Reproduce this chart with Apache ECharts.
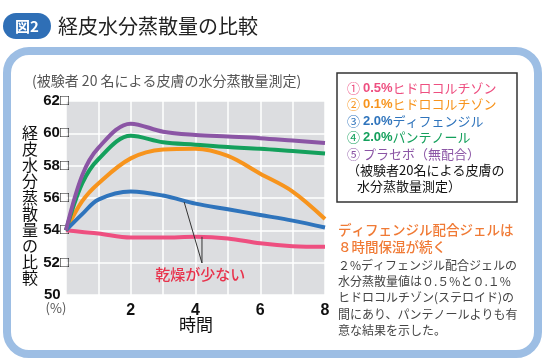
<!DOCTYPE html>
<html><head><meta charset="utf-8">
<script src="https://cdn.jsdelivr.net/npm/echarts@6/dist/echarts.min.js"></script>
<style>html,body{margin:0;padding:0;background:#fff}#c{width:547px;height:364px}</style>
</head><body><div id="c"></div>
<script>
// Data (hours, value %)
var hours = [0, 0.5, 1, 2, 3, 4, 5, 6, 7, 8];
var purple = [54, 57.4, 59.1, 60.6, 60.1, 59.9, 59.8, 59.7, 59.55, 59.4];
var green  = [54, 56.9, 58.4, 59.85, 59.45, 59.3, 59.15, 59.05, 58.9, 58.75];
var orange = [54, 55.8, 56.9, 58.45, 59.0, 59.05, 58.6, 57.5, 56.4, 54.7];
var blue   = [54, 55.0, 55.9, 56.4, 56.15, 55.65, 55.3, 54.95, 54.6, 54.18];
var pink   = [54, 53.9, 53.8, 53.55, 53.55, 53.6, 53.5, 53.2, 53.02, 52.98];
var xTicks = [2, 4, 6, 8];
var yTicks = [50, 52, 54, 56, 58, 60, 62];
var legendNames = ['0.5%ヒドロコルチゾン', '0.1%ヒドロコルチゾン', '2.0%ディフェンジル', '2.0%パンテノール', 'プラセボ（無配合）'];

function pts(arr){ return hours.map(function(h,i){ return [h, arr[i]]; }); }
var JP = '"Noto Sans CJK JP", sans-serif';
var NUM = '"Liberation Sans", Arial, sans-serif';

var chart = echarts.init(document.getElementById('c'));
function ser(name, arr, color){
  return {type:'line', name:name, data:pts(arr), smooth:0.35, showSymbol:false, clip:false,
    lineStyle:{width:4, color:color}, itemStyle:{color:color}, z:3};
}
var colors = ['#ee4f80', '#f7941d', '#2f74bc', '#14a05c', '#8b55a5'];
var option = {
  animation:false,
  grid:{left:66, right:222, top:101, bottom:69, show:true, backgroundColor:'#dcdde0', borderWidth:0},
  xAxis:{type:'value', min:0, max:8, interval:1,
    axisLine:{show:false}, axisTick:{show:false},
    splitLine:{lineStyle:{color:'#ffffff', width:1.5}},
    axisLabel:{margin:8, fontFamily:NUM, fontWeight:'bold', fontSize:16, color:'#111',
      formatter:function(v){ return xTicks.indexOf(v) >= 0 ? String(v) : ''; }}},
  yAxis:{type:'value', min:50, max:62, interval:2,
    axisLine:{show:false}, axisTick:{show:false},
    splitLine:{lineStyle:{color:'#ffffff', width:1.5}},
    axisLabel:{margin:-3, fontFamily:NUM, fontWeight:'bold', fontSize:15, color:'#111',
      formatter:function(v){ return yTicks.indexOf(v) < 0 ? '' : (v === 50 ? '50  ' : v + '□'); }}},
  series:[ser(legendNames[0], pink, colors[0]), ser(legendNames[1], orange, colors[1]),
          ser(legendNames[2], blue, colors[2]), ser(legendNames[3], green, colors[3]),
          ser(legendNames[4], purple, colors[4])]
};
chart.setOption(option);

var circ = ['①','②','③','④','⑤'];
var g = [
  {type:'rect', shape:{x:7, y:51, width:531, height:303, r:22}, style:{fill:'#fff', stroke:'#9dbee4', lineWidth:8}, z:-10},
  {type:'rect', shape:{x:3, y:13, width:48, height:26, r:13}, style:{fill:'#2f6fb6'}},
  {type:'text', x:27, y:26, style:{text:'図2', fill:'#fff', font:'bold 15px '+JP, align:'center', verticalAlign:'middle'}},
  {type:'text', x:58, y:26, style:{text:'経皮水分蒸散量の比較', fill:'#222', font:'20px '+JP, verticalAlign:'middle'}},
  {type:'text', x:32, y:81, style:{text:'(被験者 20 名による皮膚の水分蒸散量測定)', fill:'#555', font:'14px '+JP, verticalAlign:'middle'}},
  {type:'text', x:30, y:125, style:{text:'経\n皮\n水\n分\n蒸\n散\n量\nの\n比\n較', fill:'#111', font:'16px '+JP, align:'center', lineHeight:16.1}},
  {type:'text', x:56, y:308, style:{text:'(%)', fill:'#555', font:'13px '+JP, align:'center', verticalAlign:'middle'}},
  {type:'text', x:196, y:325, style:{text:'時間', fill:'#111', font:'17px '+JP, align:'center', verticalAlign:'middle'}},
  {type:'rect', shape:{x:337, y:73, width:180, height:129}, style:{fill:'#fff', stroke:'#333', lineWidth:1.5}},
  {type:'text', x:347, y:170, style:{text:'（被験者20名による皮膚の', fill:'#111', font:'13px '+JP, verticalAlign:'middle'}},
  {type:'text', x:357, y:186, style:{text:'水分蒸散量測定）', fill:'#111', font:'13px '+JP, verticalAlign:'middle'}},
  {type:'text', x:338, y:230, style:{text:'ディフェンジル配合ジェルは', fill:'#f07a35', font:'500 13.5px '+JP, verticalAlign:'middle'}},
  {type:'text', x:338, y:247, style:{text:'８時間保湿が続く', fill:'#f07a35', font:'500 13.5px '+JP, verticalAlign:'middle'}},
  {type:'text', x:338, y:257, style:{text:'２%ディフェンジル配合ジェルの\n水分蒸散量値は０.５%と０.１%\nヒドロコルチゾン(ステロイド)の\n間にあり、パンテノールよりも有\n意な結果を示した。', fill:'#444', font:'12px '+JP, lineHeight:16.3, verticalAlign:'top'}}
];
legendNames.forEach(function(n, i){
  var m = n.match(/^([0-9.]+%)(.*)$/);
  var rich = m ? '{a|'+circ[i]+' }{b|'+m[1]+'}{c|'+m[2]+'}' : '{a|'+circ[i]+' }{c|'+n+'}';
  g.push({type:'text', x:347, y:88 + i*16.5, style:{text:rich, verticalAlign:'middle',
    rich:{a:{fill:colors[i], font:'13px '+JP}, b:{fill:colors[i], font:'bold 13px '+NUM}, c:{fill:colors[i], font:'13px '+JP}}}});
});
// annotation
var pBlue = chart.convertToPixel({gridIndex:0}, [3.65, 55.75]);
var pPink = chart.convertToPixel({gridIndex:0}, [4.2, 53.6]);
var pJoin = chart.convertToPixel({gridIndex:0}, [4.2, 51.98]);
var pTxt = chart.convertToPixel({gridIndex:0}, [4.3, 51.3]);
g.push({type:'line', shape:{x1:pBlue[0], y1:pBlue[1], x2:pJoin[0], y2:pJoin[1]}, style:{stroke:'#333', lineWidth:1}, z:10});
g.push({type:'line', shape:{x1:pPink[0], y1:pPink[1], x2:pJoin[0], y2:pJoin[1]}, style:{stroke:'#333', lineWidth:1}, z:10});
g.push({type:'text', x:pTxt[0]-5, y:pTxt[1], style:{text:'乾燥が少ない', fill:'#e8334c', font:'500 15px '+JP, align:'center', verticalAlign:'middle'}, z:10});
chart.setOption({graphic:g});
</script></body></html>
